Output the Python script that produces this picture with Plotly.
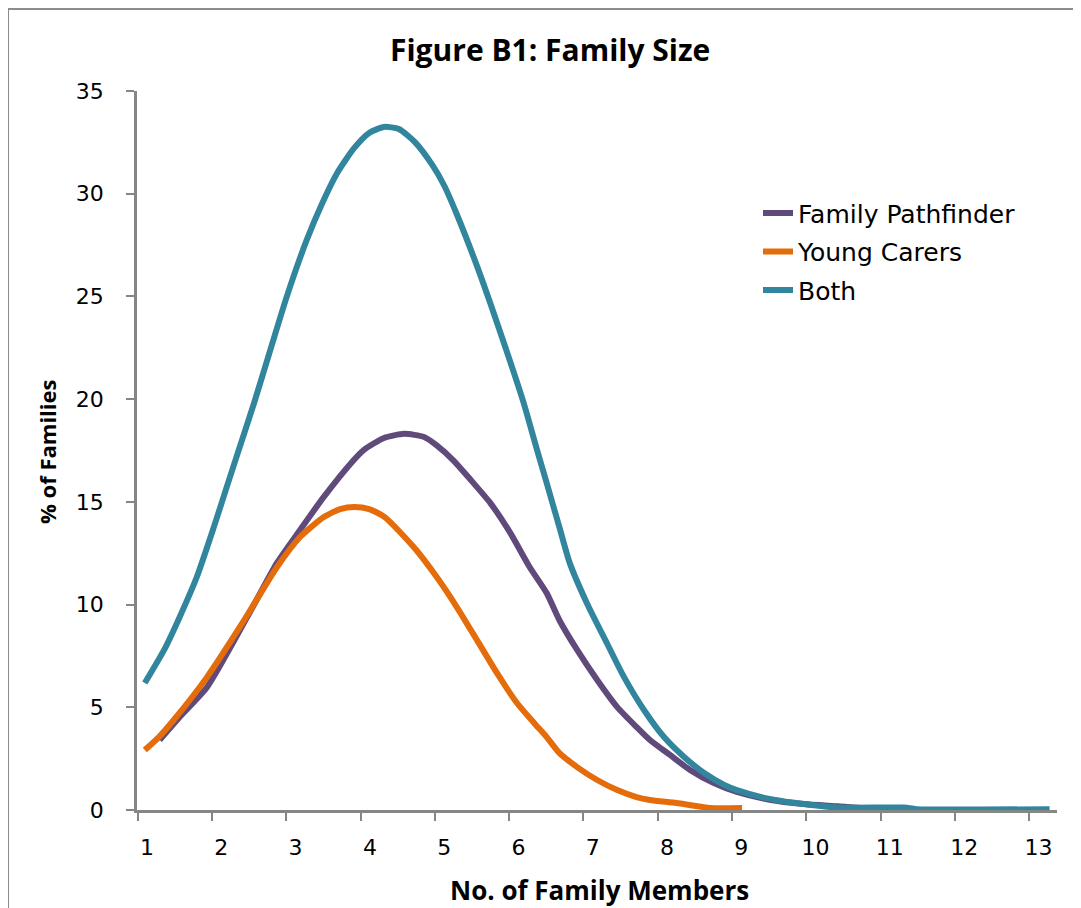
import plotly.graph_objects as go

# ---- data ----
both_x = [0.97, 1.23, 1.44, 1.67, 1.90, 2.08, 2.21, 2.44, 2.66, 2.88, 3.15, 3.36, 3.56, 3.79, 3.99,
          4.19, 4.39, 4.61, 4.84, 5.00, 5.17, 5.44, 5.62, 5.85, 6.07, 6.25, 6.38, 6.55, 6.69, 6.92, 7.19,
          7.42, 7.69, 7.96, 8.23, 8.50, 8.77, 8.94, 9.38, 9.84, 10.29, 11.19, 11.36, 13.15]
both_y = [6.18, 7.79, 9.40, 11.34, 13.78, 15.80, 17.25, 19.80, 22.40, 24.98, 27.75, 29.55, 31.01, 32.23, 32.96,
          33.25, 33.15, 32.50, 31.40, 30.40, 29.00, 26.50, 24.68, 22.25, 19.82, 17.53, 15.92, 13.78, 12.03, 10.08, 8.13,
          6.48, 4.87, 3.55, 2.58, 1.80, 1.22, 0.97, 0.54, 0.29, 0.12, 0.12, 0.04, 0.04]

fp_x = [1.17, 1.44, 1.81, 2.35, 2.75, 3.06, 3.38, 3.76, 3.92, 4.19, 4.46, 4.73, 4.90, 5.13, 5.35,
        5.62, 5.89, 6.15, 6.38, 6.55, 6.79, 7.06, 7.33, 7.59, 7.77, 8.04, 8.31, 8.63, 8.94, 9.38,
        9.84, 10.30, 10.60, 11.20]
fp_y = [3.41, 4.53, 5.99, 9.40, 12.03, 13.63, 15.24, 16.94, 17.53, 18.11, 18.31, 18.16, 17.75, 17.00, 16.10,
        14.95, 13.49, 11.83, 10.56, 9.25, 7.79, 6.33, 5.01, 4.04, 3.41, 2.68, 1.95, 1.31, 0.88, 0.50,
        0.29, 0.18, 0.10, 0.05]

yc_x = [0.97, 1.16, 1.36, 1.81, 2.31, 2.75, 3.06, 3.38, 3.60, 3.79, 3.99, 4.20, 4.59, 4.90, 5.17,
        5.44, 5.71, 5.98, 6.21, 6.38, 6.55, 6.79, 7.06, 7.33, 7.59, 7.77, 8.13, 8.58, 9.01]
yc_y = [2.92, 3.55, 4.38, 6.48, 9.25, 11.83, 13.29, 14.26, 14.65, 14.75, 14.65, 14.26, 12.80, 11.34, 9.88,
        8.28, 6.67, 5.21, 4.24, 3.55, 2.78, 2.09, 1.46, 0.97, 0.63, 0.49, 0.34, 0.10, 0.10]

x_tick_vals = list(range(1, 14))
x_tick_text = [str(v) for v in x_tick_vals]
x_tick_marks = [v - 0.125 for v in range(1, 14)]
y_tick_vals = [0, 5, 10, 15, 20, 25, 30, 35]

series = [
    ("Family Pathfinder", fp_x, fp_y, "#604A7B"),
    ("Young Carers", yc_x, yc_y, "#E46C0A"),
    ("Both", both_x, both_y, "#31859C"),
]

fig = go.Figure()
for i, (name, xs, ys, col) in enumerate(series):
    fig.add_trace(go.Scatter(
        x=xs, y=ys, name=name, mode="lines", legendgroup=f"g{i}",
        line=dict(color=col, width=6, shape="spline", smoothing=0.6),
    ))

axis_col = "#868686"
tick_font = dict(family="DejaVu Sans", size=22, color="#000000")

fig.update_layout(
    width=1073, height=900,
    margin=dict(l=129, r=24, t=83, b=98),
    paper_bgcolor="white", plot_bgcolor="white",
    showlegend=True,
    legend=dict(
        x=0.675, xanchor="left", y=0.862, yanchor="top",
        font=dict(family="DejaVu Sans", size=25, color="#000000"),
        bgcolor="rgba(0,0,0,0)", tracegroupgap=3, borderwidth=0,
    ),
    xaxis=dict(
        range=[0.865, 13.25], showgrid=False, zeroline=False,
        showline=True, linecolor=axis_col, linewidth=2.5,
        tickmode="array", tickvals=x_tick_vals, ticktext=x_tick_text,
        ticks="", tickfont=tick_font, ticklabelstandoff=16,
        minor=dict(tickmode="array", tickvals=x_tick_marks, ticks="outside",
                   ticklen=8, tickwidth=2, tickcolor=axis_col, showgrid=False),
    ),
    yaxis=dict(
        range=[0, 35], showgrid=False, zeroline=False,
        showline=True, linecolor=axis_col, linewidth=2.5,
        tickmode="array", tickvals=y_tick_vals,
        ticks="outside", ticklen=8, tickwidth=2, tickcolor=axis_col,
        tickfont=tick_font, ticklabelstandoff=18,
    ),
    annotations=[
        dict(text="<b>Figure B1: Family Size</b>", xref="paper", yref="paper",
             x=0.449, y=1.0584, xanchor="center", yanchor="middle", showarrow=False,
             font=dict(family="Open Sans", size=30, color="#000000")),
        dict(text="<b>No. of Family Members</b>", xref="paper", yref="paper",
             x=0.503, y=-0.111, xanchor="center", yanchor="middle", showarrow=False,
             font=dict(family="Open Sans", size=26, color="#000000")),
        dict(text="<b>% of Families</b>", xref="paper", yref="paper",
             x=-0.0978, y=0.498, xanchor="center", yanchor="middle", showarrow=False,
             textangle=-90, font=dict(family="Open Sans", size=22, color="#000000")),
    ],
    shapes=[
        dict(type="line", xref="paper", yref="paper", x0=-0.1402, x1=1.1, y0=1.114, y1=1.114,
             line=dict(color="#8c8c8c", width=2)),
        dict(type="line", xref="paper", yref="paper", x0=-0.1402, x1=-0.1402, y0=1.114, y1=-0.15,
             line=dict(color="#8c8c8c", width=2)),
    ],
)

fig.write_html("out.html")
